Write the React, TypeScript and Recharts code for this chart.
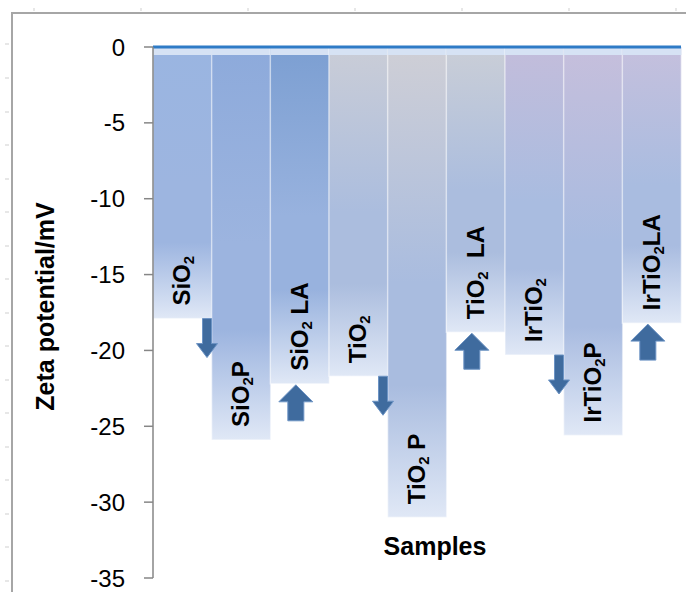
import { BarChart, Bar, XAxis, YAxis, ReferenceLine, LabelList } from "recharts";

// sample names (the single "2" is drawn as a subscript)
const samples = ["SiO2", "SiO2P", "SiO2 LA", "TiO2", "TiO2 P", "TiO2  LA", "IrTiO2", "IrTiO2P", "IrTiO2LA"];
// zeta potential, mV
const zeta = [-17.9, -25.9, -22.2, -21.7, -31.0, -18.8, -20.3, -25.6, -18.2];
// arrow drawn under each bar
const change = ["down", "", "up", "down", "", "up", "down", "", "up"];
const yTicks = [0, -5, -10, -15, -20, -25, -30, -35];

const data = samples.map((name, i) => ({ name, zeta: zeta[i], change: change[i] }));

// gradient colours per bar: top, middle, bottom
const topColors = ["#9AB5E1", "#8DAADB", "#7C9FD2", "#CACDD7", "#CFCFD6", "#CACED7", "#C3BDDB", "#C6BFDC", "#C5C0DD"];
const midColors = ["#9DB5E0", "#9CB4DF", "#98B2DE", "#ABBDDE", "#A9BCDF", "#ABBDDE", "#A9BCE0", "#A8BBE0", "#A9BCE0"];
const bottomColor = "#E0E8F6";

const font = "'Liberation Sans', Arial, sans-serif";

const BarShape = (props: any) => {
  const { x, y, width, height, index } = props;
  const top = Math.min(y, y + height);
  const h = Math.abs(height);
  return (
    <g>
      <rect x={x} y={top} width={width} height={h} fill={`url(#zg${index})`} stroke="#ffffff" strokeOpacity={0.45} strokeWidth={1.5} />
      <rect x={x} y={top} width={width} height={8} fill="#D6E2F4" />
    </g>
  );
};

const NameLabel = (props: any) => {
  const vb = props.viewBox ?? props;
  const { x, y, width, height } = vb;
  const bottom = Math.max(y, y + height);
  const bx = x + width / 2 + 8;
  const by = bottom - 13;
  const [pre, post] = String(props.value).split("2");
  return (
    <text
      x={bx}
      y={by}
      transform={`rotate(-90 ${bx} ${by})`}
      fontFamily={font}
      fontSize={24}
      fontWeight="bold"
      fill="#000"
      style={{ whiteSpace: "pre" }}
    >
      {pre}
      <tspan fontSize={15} dy={4}>2</tspan>
      <tspan dy={-4}>{post}</tspan>
    </text>
  );
};

const ArrowLabel = (props: any) => {
  const vb = props.viewBox ?? props;
  const { x, y, width, height } = vb;
  const bottom = Math.max(y, y + height);
  let pts: number[][] = [];
  if (props.value === "down") {
    const cx = x + width - 5;
    const t = bottom;
    pts = [[cx - 4.5, t], [cx + 4.5, t], [cx + 4.5, t + 25], [cx + 10.5, t + 25], [cx, t + 39], [cx - 10.5, t + 25], [cx - 4.5, t + 25]];
  } else if (props.value === "up") {
    const cx = x + width / 2 - 4;
    const t = bottom + 1;
    pts = [[cx, t], [cx + 17, t + 17], [cx + 8, t + 17], [cx + 8, t + 36], [cx - 8, t + 36], [cx - 8, t + 17], [cx - 17, t + 17]];
  } else {
    return null;
  }
  return (
    <polygon
      points={pts.map((p) => p.join(",")).join(" ")}
      fill="#3F6B9E"
      stroke="#6C93C4"
      strokeWidth={1}
    />
  );
};

// axis titles, placed from the y-axis view box
const AxisTitles = (p: any) => {
  const vb = p.viewBox;
  const plotBottom = vb.y + vb.height;
  const plotMid = vb.y + vb.height / 2;
  const plotLeft = vb.x + vb.width;
  return (
    <g fontFamily={font} fontSize={25} fontWeight="bold" fill="#000">
      <text
        x={45}
        y={plotMid - 6}
        transform={`rotate(-90 45 ${plotMid - 6})`}
        textAnchor="middle"
        dominantBaseline="central"
      >
        Zeta potential/mV
      </text>
      <text x={plotLeft + 282} y={plotBottom - 32} textAnchor="middle" dominantBaseline="central">
        Samples
      </text>
    </g>
  );
};

const topTicks = [34, 141, 248, 355, 462, 569, 676];
const leftTicks = [44, 78, 112, 145, 179, 212, 246, 279, 313, 346, 380, 413, 447, 480, 514, 547, 581];

export default function App() {
  return (
    <div style={{ position: "absolute", left: 0, top: 0, width: 686, height: 592, background: "#fff", overflow: "hidden" }}>
      <svg width={686} height={592} style={{ position: "absolute", left: 0, top: 0 }}>
        {topTicks.map((t) => (
          <line key={"t" + t} x1={t} x2={t} y1={8} y2={11} stroke="#CFCFCF" />
        ))}
        {leftTicks.map((t) => (
          <line key={"l" + t} x1={5} x2={9} y1={t} y2={t} stroke="#CFCFCF" />
        ))}
        <path d="M12 592 V13 H686" fill="none" stroke="#A6A6A6" strokeWidth={2} />
      </svg>
      <div style={{ position: "absolute", left: 0, top: 0 }}>
        <BarChart
          width={686}
          height={592}
          data={data}
          margin={{ top: 47, right: 5, left: 0, bottom: 14 }}
          barCategoryGap={0}
          barGap={0}
        >
          <defs>
            {topColors.map((c, i) => (
              <linearGradient key={i} id={`zg${i}`} x1="0" y1="0" x2="0" y2="1">
                <stop offset="0" stopColor={c} />
                <stop offset="0.5" stopColor={midColors[i]} />
                <stop offset="0.72" stopColor={midColors[i]} />
                <stop offset="1" stopColor={bottomColor} />
              </linearGradient>
            ))}
          </defs>
          <XAxis dataKey="name" height={0} axisLine={false} tickLine={false} tick={false} />
          <YAxis
            width={153}
            domain={[-35, 0]}
            ticks={yTicks}
            interval={0}
            tickSize={9}
            tickMargin={19}
            axisLine={{ stroke: "#868686", strokeWidth: 1.5 }}
            tickLine={{ stroke: "#868686", strokeWidth: 1.5 }}
            tick={{ fill: "#000", fontSize: 24, fontFamily: font }}
            label={{ position: "left", content: AxisTitles }}
          />
          <Bar dataKey="zeta" shape={BarShape} isAnimationActive={false}>
            <LabelList dataKey="name" content={NameLabel} />
            <LabelList dataKey="change" content={ArrowLabel} />
          </Bar>
          <ReferenceLine y={0} stroke="#2E7BC6" strokeWidth={3} />
        </BarChart>
      </div>
    </div>
  );
}
